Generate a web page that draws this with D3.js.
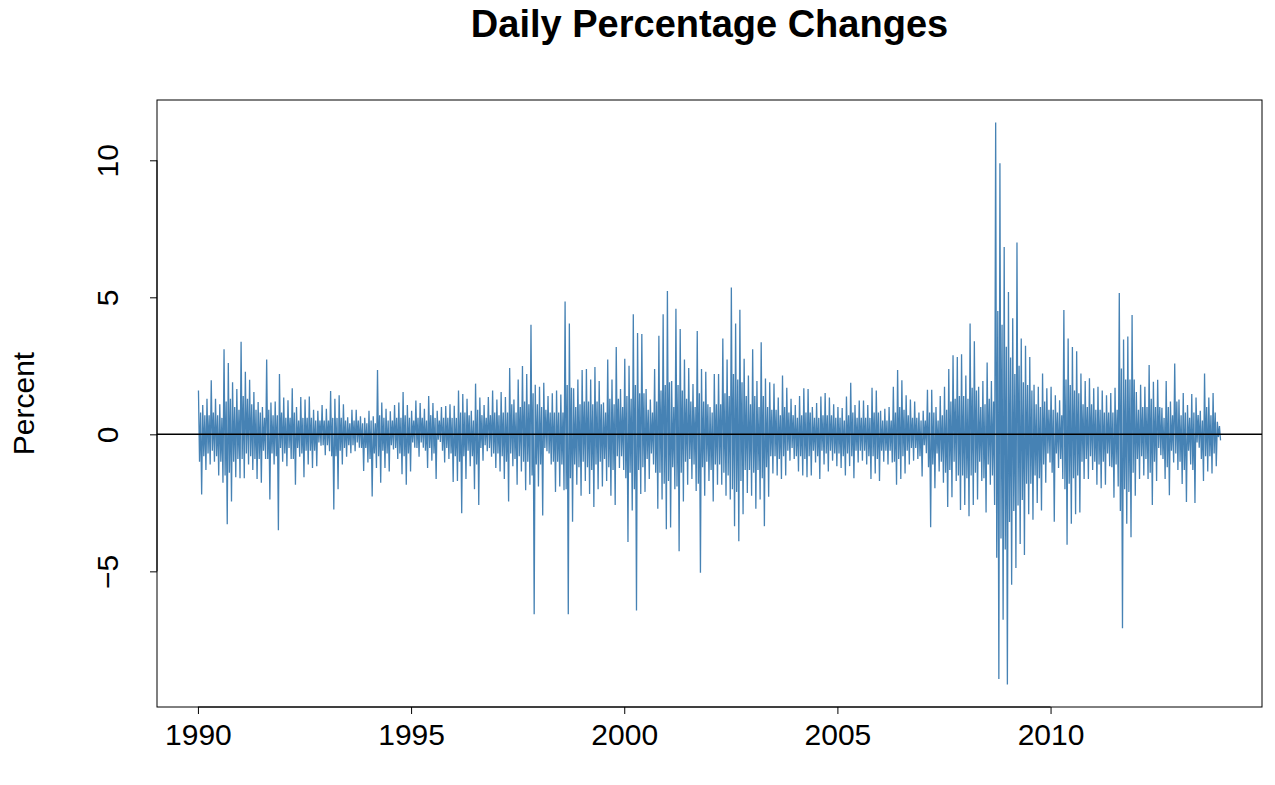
<!DOCTYPE html>
<html>
<head>
<meta charset="utf-8">
<script src="https://cdn.jsdelivr.net/npm/d3@7"></script>
<style>
  html, body { margin: 0; padding: 0; background: #ffffff; }
  svg { display: block; }
  text { font-family: "Liberation Sans", Arial, Helvetica, sans-serif; }
</style>
</head>
<body>
<svg id="chart" width="1275" height="785"></svg>
<script>
// Daily percentage changes, summarised per 0.1-year interval starting in 1990
//   highs / lows      : the most extreme up / down day in the interval
//   coreHighs/coreLows: the edge of the dense band of ordinary days
const startYear = 1990;
const binYears = 0.1;
const highs = [
  1.6, 1.07, 1.3, 1.97, 1.3, 1.1, 3.1, 2.6, 1.9, 1.65,
  3.38, 2.28, 1.99, 1.54, 1.18, 1.0, 2.73, 1.16, 1.2, 2.2,
  1.34, 1.24, 1.68, 1.0, 1.36, 1.27, 1.38, 0.9, 0.86, 1.07,
  0.93, 1.58, 1.3, 1.43, 1.1, 0.62, 0.9, 0.9, 0.66, 0.6,
  0.86, 0.66, 2.35, 1.16, 0.93, 0.84, 1.07, 1.16, 1.54, 1.07,
  0.86, 1.23, 1.14, 0.93, 1.4, 1.14, 0.86, 1.0, 1.03, 1.1,
  1.04, 1.6, 1.47, 1.3, 0.86, 1.85, 1.34, 1.07, 1.36, 1.6,
  1.27, 1.54, 1.36, 2.42, 1.27, 2.0, 2.49, 2.2, 4.0, 1.81,
  1.74, 1.88, 1.4, 1.5, 1.6, 1.45, 4.85, 4.04, 1.68, 2.0,
  2.35, 2.38, 2.0, 2.46, 1.95, 1.16, 2.73, 2.0, 3.19, 1.65,
  2.76, 2.5, 4.38, 3.7, 3.66, 1.65, 1.27, 2.38, 3.6, 4.38,
  5.23, 1.95, 4.58, 3.84, 2.73, 2.42, 1.84, 3.77, 2.38, 2.28,
  1.0, 2.2, 2.2, 3.5, 2.73, 5.36, 4.04, 4.55, 2.76, 2.15,
  3.1, 1.95, 3.36, 2.04, 1.9, 1.85, 1.34, 2.15, 1.7, 1.3,
  1.07, 1.4, 1.68, 1.65, 1.0, 1.14, 1.38, 1.51, 1.34, 1.1,
  1.0, 0.96, 1.38, 1.88, 1.07, 1.23, 1.23, 1.07, 1.7, 1.6,
  0.86, 0.93, 1.0, 1.74, 2.35, 1.97, 1.43, 1.27, 1.2, 0.8,
  0.86, 1.63, 1.63, 1.0, 1.4, 1.74, 2.38, 2.89, 2.82, 2.92,
  2.15, 4.04, 3.4, 1.74, 1.95, 2.62, 1.95, 11.38, 9.89, 6.84,
  5.19, 4.24, 7.0, 3.5, 3.23, 2.82, 1.81, 1.74, 2.22, 1.68,
  1.74, 1.43, 1.24, 4.54, 3.5, 3.19, 3.03, 2.22, 1.95, 2.05,
  1.68, 1.74, 1.6, 1.43, 1.51, 1.7, 5.16, 3.46, 3.57, 4.35,
  1.54, 1.81, 1.74, 2.53, 1.92, 1.99, 0.97, 1.95, 1.2, 2.58,
  1.27, 1.51, 1.07, 1.47, 1.34, 0.86, 2.22, 1.34, 1.51, 0.46
];
const lows = [
  -2.2, -1.3, -1.1, -1.0, -1.5, -1.77, -3.28, -2.45, -1.57, -1.6,
  -1.6, -1.1, -1.3, -1.63, -1.77, -0.9, -2.38, -1.1, -3.5, -1.0,
  -1.16, -0.9, -1.84, -0.82, -1.57, -1.1, -1.23, -1.16, -0.42, -0.76,
  -0.62, -2.74, -2.0, -1.1, -0.82, -0.69, -0.62, -0.49, -1.34, -1.03,
  -2.27, -1.23, -1.77, -1.23, -1.36, -0.55, -0.9, -1.46, -1.84, -1.36,
  -0.49, -0.82, -0.49, -1.23, -0.96, -1.63, -0.28, -1.03, -0.9, -1.74,
  -1.7, -2.88, -1.63, -1.16, -2.0, -2.58, -0.96, -0.62, -0.82, -1.23,
  -1.36, -1.63, -2.45, -1.16, -1.84, -1.36, -2.04, -1.84, -6.57, -1.9,
  -2.96, -0.62, -1.1, -2.1, -1.9, -2.04, -6.57, -3.19, -1.84, -2.24,
  -1.7, -2.18, -2.65, -2.0, -1.9, -1.7, -2.24, -2.58, -1.23, -1.3,
  -3.93, -2.78, -6.43, -2.18, -2.1, -1.63, -1.1, -2.72, -2.38, -3.46,
  -3.4, -2.0, -4.27, -2.45, -1.84, -1.63, -2.07, -5.05, -2.24, -1.7,
  -2.45, -1.84, -1.84, -2.24, -2.38, -3.35, -3.9, -2.92, -2.14, -2.24,
  -2.72, -2.38, -3.35, -2.28, -1.43, -1.5, -1.63, -1.5, -0.96, -0.9,
  -1.36, -1.5, -1.57, -1.5, -1.03, -1.63, -1.1, -1.36, -0.96, -1.16,
  -1.23, -1.5, -1.16, -1.6, -1.03, -0.96, -1.1, -1.63, -1.43, -1.7,
  -1.0, -1.1, -1.03, -1.84, -1.63, -1.43, -1.1, -0.96, -0.9, -1.54,
  -0.69, -3.39, -1.97, -1.36, -1.77, -2.65, -2.3, -1.7, -2.76, -2.58,
  -2.99, -2.58, -2.38, -1.7, -2.85, -1.84, -2.58, -8.93, -6.77, -9.13,
  -5.49, -4.88, -4.0, -4.4, -2.92, -3.12, -2.51, -2.78, -1.77, -1.03,
  -3.19, -1.23, -1.63, -4.03, -3.26, -2.92, -2.85, -1.63, -1.63, -1.3,
  -1.84, -1.97, -1.84, -1.16, -2.31, -1.9, -7.08, -3.26, -3.76, -2.24,
  -1.63, -1.5, -1.63, -2.58, -1.7, -0.76, -1.63, -2.22, -1.03, -1.3,
  -1.81, -2.47, -1.1, -2.51, -0.49, -1.7, -1.36, -1.43, -1.16, -0.22
];
const coreHighs = [
  0.8, 0.7, 0.7, 0.8, 0.7, 0.6, 1.2, 1.3, 1.0, 0.9,
  1.4, 1.3, 1.1, 0.9, 0.8, 0.6, 0.9, 0.7, 0.7, 0.8,
  0.6, 0.6, 0.8, 0.5, 0.6, 0.6, 0.6, 0.5, 0.5, 0.5,
  0.5, 0.6, 0.6, 0.6, 0.5, 0.4, 0.5, 0.5, 0.4, 0.4,
  0.5, 0.4, 0.7, 0.6, 0.5, 0.5, 0.6, 0.6, 0.7, 0.6,
  0.5, 0.6, 0.6, 0.5, 0.7, 0.6, 0.5, 0.6, 0.6, 0.6,
  0.6, 0.8, 0.8, 0.7, 0.5, 0.9, 0.7, 0.6, 0.7, 0.8,
  0.7, 0.8, 0.8, 1.1, 0.8, 1.0, 1.2, 1.1, 1.5, 1.1,
  1.0, 0.9, 0.8, 0.8, 0.8, 0.8, 1.8, 1.7, 1.0, 1.1,
  1.2, 1.2, 1.1, 1.2, 1.1, 0.8, 1.3, 1.1, 1.3, 1.0,
  1.4, 1.3, 1.8, 1.5, 1.5, 0.9, 0.8, 1.2, 1.6, 1.8,
  1.9, 1.0, 1.8, 1.6, 1.3, 1.2, 1.0, 1.5, 1.2, 1.1,
  0.8, 1.1, 1.1, 1.5, 1.4, 2.2, 2.0, 1.9, 1.4, 1.1,
  1.4, 1.0, 1.4, 1.0, 0.9, 0.9, 0.7, 1.0, 0.8, 0.7,
  0.6, 0.7, 0.8, 0.8, 0.6, 0.6, 0.7, 0.7, 0.7, 0.6,
  0.6, 0.5, 0.7, 0.8, 0.6, 0.6, 0.6, 0.6, 0.8, 0.8,
  0.5, 0.5, 0.5, 0.8, 1.0, 0.9, 0.7, 0.6, 0.6, 0.5,
  0.5, 0.8, 0.8, 0.5, 0.7, 0.9, 1.2, 1.3, 1.4, 1.4,
  1.3, 1.7, 1.6, 1.0, 1.1, 1.3, 1.2, 4.5, 4.0, 3.2,
  2.8, 2.2, 2.5, 1.9, 1.8, 1.6, 1.1, 1.0, 1.2, 0.9,
  0.9, 0.8, 0.7, 2.0, 1.8, 1.6, 1.5, 1.1, 1.0, 1.1,
  0.9, 0.9, 0.8, 0.8, 0.8, 0.9, 2.4, 2.0, 2.0, 2.0,
  0.9, 1.0, 1.0, 1.3, 1.0, 1.0, 0.6, 1.0, 0.7, 1.2,
  0.7, 0.8, 0.6, 0.8, 0.7, 0.5, 1.0, 0.7, 0.8, 0.3
];
const coreLows = [
  -1.0, -0.8, -0.7, -0.6, -0.8, -1.0, -1.5, -1.4, -1.0, -0.9,
  -0.9, -0.7, -0.8, -0.9, -0.9, -0.6, -0.9, -0.7, -0.8, -0.5,
  -0.7, -0.5, -0.9, -0.5, -0.7, -0.6, -0.6, -0.6, -0.3, -0.4,
  -0.4, -0.8, -0.8, -0.6, -0.5, -0.4, -0.4, -0.3, -0.5, -0.5,
  -0.9, -0.7, -0.8, -0.6, -0.7, -0.4, -0.5, -0.7, -0.8, -0.7,
  -0.3, -0.5, -0.3, -0.6, -0.5, -0.7, -0.2, -0.6, -0.5, -0.7,
  -0.8, -1.0, -0.8, -0.6, -0.8, -1.1, -0.5, -0.4, -0.5, -0.7,
  -0.7, -0.8, -1.0, -0.7, -0.9, -0.8, -1.0, -1.0, -1.5, -1.1,
  -1.1, -0.5, -0.7, -1.0, -1.0, -1.1, -2.0, -1.6, -1.1, -1.2,
  -1.0, -1.2, -1.3, -1.1, -1.0, -0.9, -1.2, -1.3, -0.8, -0.8,
  -1.6, -1.4, -2.0, -1.3, -1.2, -0.9, -0.7, -1.4, -1.4, -1.8,
  -1.7, -1.2, -1.9, -1.4, -1.0, -0.9, -1.1, -1.8, -1.2, -1.0,
  -1.3, -1.1, -1.1, -1.4, -1.5, -2.0, -2.1, -1.7, -1.3, -1.3,
  -1.4, -1.3, -1.6, -1.2, -0.8, -0.8, -0.9, -0.8, -0.6, -0.5,
  -0.8, -0.8, -0.9, -0.8, -0.6, -0.8, -0.6, -0.7, -0.6, -0.7,
  -0.7, -0.8, -0.7, -0.8, -0.6, -0.6, -0.6, -0.8, -0.8, -0.9,
  -0.6, -0.6, -0.6, -1.0, -0.9, -0.8, -0.6, -0.5, -0.5, -0.8,
  -0.4, -1.2, -1.1, -0.7, -1.0, -1.4, -1.3, -1.0, -1.5, -1.5,
  -1.6, -1.5, -1.4, -1.0, -1.6, -1.1, -1.5, -4.5, -3.8, -4.2,
  -3.2, -2.8, -2.6, -2.4, -1.8, -1.8, -1.5, -1.6, -1.1, -0.7,
  -1.4, -0.7, -0.9, -2.0, -1.8, -1.6, -1.5, -1.0, -0.9, -0.8,
  -1.0, -1.1, -1.0, -0.7, -1.2, -1.1, -2.8, -2.0, -2.1, -1.4,
  -0.9, -0.8, -0.9, -1.4, -1.0, -0.5, -0.9, -1.2, -0.6, -0.7,
  -1.0, -1.3, -0.6, -1.3, -0.3, -0.9, -0.8, -0.8, -0.7, -0.1
];
const xTicks = [1990, 1995, 2000, 2005, 2010];
const yTicks = [-5, 0, 5, 10];
const titleText = "Daily Percentage Changes";
const yLabelText = "Percent";

// Build the series: within each interval high, core low, core high, low.
const series = [];
highs.forEach((h, i) => {
  const t0 = startYear + i * binYears;
  series.push({ t: t0 + binYears * 0.125, v: h });
  series.push({ t: t0 + binYears * 0.375, v: coreLows[i] });
  series.push({ t: t0 + binYears * 0.625, v: coreHighs[i] });
  series.push({ t: t0 + binYears * 0.875, v: lows[i] });
});

const svg = d3.select("#chart");
const plot = { left: 157, right: 1262, top: 100, bottom: 707 };

const tMin = startYear, tMax = startYear + highs.length * binYears;
const tPad = (tMax - tMin) * 0.04;
const x = d3.scaleLinear().domain([tMin - tPad, tMax + tPad]).range([plot.left, plot.right]);
const vMin = d3.min(lows), vMax = d3.max(highs);
const vPad = (vMax - vMin) * 0.04;
const y = d3.scaleLinear().domain([vMin - vPad, vMax + vPad]).range([plot.bottom, plot.top]);

// series line
svg.append("path")
  .datum(series)
  .attr("fill", "none")
  .attr("stroke", "#4682B4")
  .attr("stroke-width", 1.3)
  .attr("stroke-linejoin", "bevel")
  .attr("d", d3.line().x(d => x(d.t)).y(d => y(d.v)));

// zero line
svg.append("line")
  .attr("x1", plot.left).attr("x2", plot.right)
  .attr("y1", y(0)).attr("y2", y(0))
  .attr("stroke", "#000").attr("stroke-width", 1.5);

// box
svg.append("rect")
  .attr("x", plot.left).attr("y", plot.top)
  .attr("width", plot.right - plot.left).attr("height", plot.bottom - plot.top)
  .attr("fill", "none").attr("stroke", "#000").attr("stroke-width", 1);

// x axis
const xAxis = d3.axisBottom(x).tickValues(xTicks).tickFormat(d3.format("d"))
  .tickSize(7).tickPadding(10);
const gx = svg.append("g").attr("transform", `translate(0,${plot.bottom})`).call(xAxis);
gx.select(".domain").attr("d", `M${x(xTicks[0])},0H${x(xTicks[xTicks.length - 1])}`);
gx.selectAll("text").attr("font-size", 30).attr("fill", "#000")
  .attr("font-family", "Liberation Sans, Arial, sans-serif");
gx.selectAll("line, path").attr("stroke", "#000");

// y axis
const yAxis = d3.axisLeft(y).tickValues(yTicks).tickFormat(d3.format("d"))
  .tickSize(7).tickPadding(10);
const gy = svg.append("g").attr("transform", `translate(${plot.left},0)`).call(yAxis);
gy.select(".domain").attr("d", `M0,${y(yTicks[0])}V${y(yTicks[yTicks.length - 1])}`);
gy.selectAll("line, path").attr("stroke", "#000");
gy.selectAll(".tick text")
  .attr("font-size", 30).attr("fill", "#000")
  .attr("font-family", "Liberation Sans, Arial, sans-serif")
  .attr("x", null).attr("dy", null)
  .attr("text-anchor", "middle")
  .attr("transform", "translate(-50,0) rotate(-90)")
  .attr("dy", "0.35em");

// title
svg.append("text")
  .attr("x", (plot.left + plot.right) / 2).attr("y", 37)
  .attr("text-anchor", "middle")
  .attr("font-size", 38).attr("font-weight", "bold")
  .text(titleText);

// y label
svg.append("text")
  .attr("transform", `translate(34,${(plot.top + plot.bottom) / 2}) rotate(-90)`)
  .attr("text-anchor", "middle")
  .attr("font-size", 30)
  .text(yLabelText);
</script>
</body>
</html>
